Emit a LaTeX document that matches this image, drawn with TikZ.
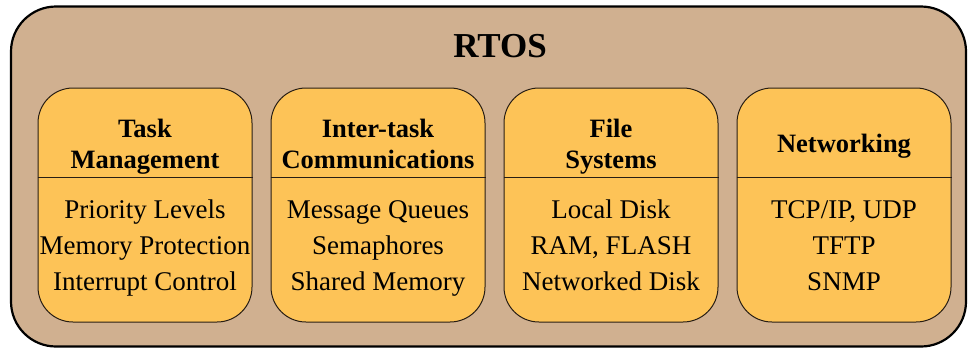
\documentclass[tikz,border=0pt]{standalone}
\usepackage{fontspec}
\setmainfont{Liberation Serif}
\definecolor{outerfill}{RGB}{208,176,144}
\definecolor{innerfill}{RGB}{253,195,87}
\definecolor{innerline}{RGB}{40,30,20}
\begin{document}
\begin{tikzpicture}[x=1pt,y=-1pt,
  outerbox/.style={draw=black, line width=2.2pt, fill=outerfill, rounded corners=45pt, inner sep=0pt},
  innerbox/.style={draw=innerline, line width=1pt, fill=innerfill, rounded corners=35pt,
    minimum width=214pt, minimum height=234pt, inner sep=0pt},
  divider/.style={draw=innerline, line width=1pt},
  titletext/.style={font=\fontsize{35}{40}\selectfont\bfseries, anchor=base, inner sep=0pt},
  headtext/.style={font=\fontsize{26.5}{31}\selectfont\bfseries, anchor=base, inner sep=0pt},
  bodytext/.style={font=\fontsize{27}{36}\selectfont, anchor=base, inner sep=0pt}]
\useasboundingbox (0,0) rectangle (968,349);
\node[outerbox, minimum width=955pt, minimum height=340pt] (rtos) at (488.5,176.5) {};
\node[titletext] (title) at (500,57) {RTOS};
% boxes
\node[innerbox] (box1) at (145,205) {};
\node[innerbox] (box2) at (378,205) {};
\node[innerbox] (box3) at (611,205) {};
\node[innerbox] (box4) at (844,205) {};
\foreach \b in {box1,box2,box3,box4}{
  \draw[divider] ([yshift=-90pt]\b.north west) -- ([yshift=-90pt]\b.north east);
}
% headers
\node[headtext] (h1a) at (145,137) {Task};
\node[headtext] (h1b) at (145,168) {Management};
\node[headtext] (h2a) at (378,137) {Inter-task};
\node[headtext] (h2b) at (378,168) {Communications};
\node[headtext] (h3a) at (611,137) {File};
\node[headtext] (h3b) at (611,168) {Systems};
\node[headtext] (h4a) at (844,152) {Networking};
% bodies
\node[bodytext] (b1a) at (145,218) {Priority Levels};
\node[bodytext] (b1b) at (145,254) {Memory Protection};
\node[bodytext] (b1c) at (145,290) {Interrupt Control};
\node[bodytext] (b2a) at (378,218) {Message Queues};
\node[bodytext] (b2b) at (378,254) {Semaphores};
\node[bodytext] (b2c) at (378,290) {Shared Memory};
\node[bodytext] (b3a) at (611,218) {Local Disk};
\node[bodytext] (b3b) at (611,254) {RAM, FLASH};
\node[bodytext] (b3c) at (611,290) {Networked Disk};
\node[bodytext] (b4a) at (844,218) {TCP/IP, UDP};
\node[bodytext] (b4b) at (844,254) {TFTP};
\node[bodytext] (b4c) at (844,290) {SNMP};
\end{tikzpicture}
\end{document}
